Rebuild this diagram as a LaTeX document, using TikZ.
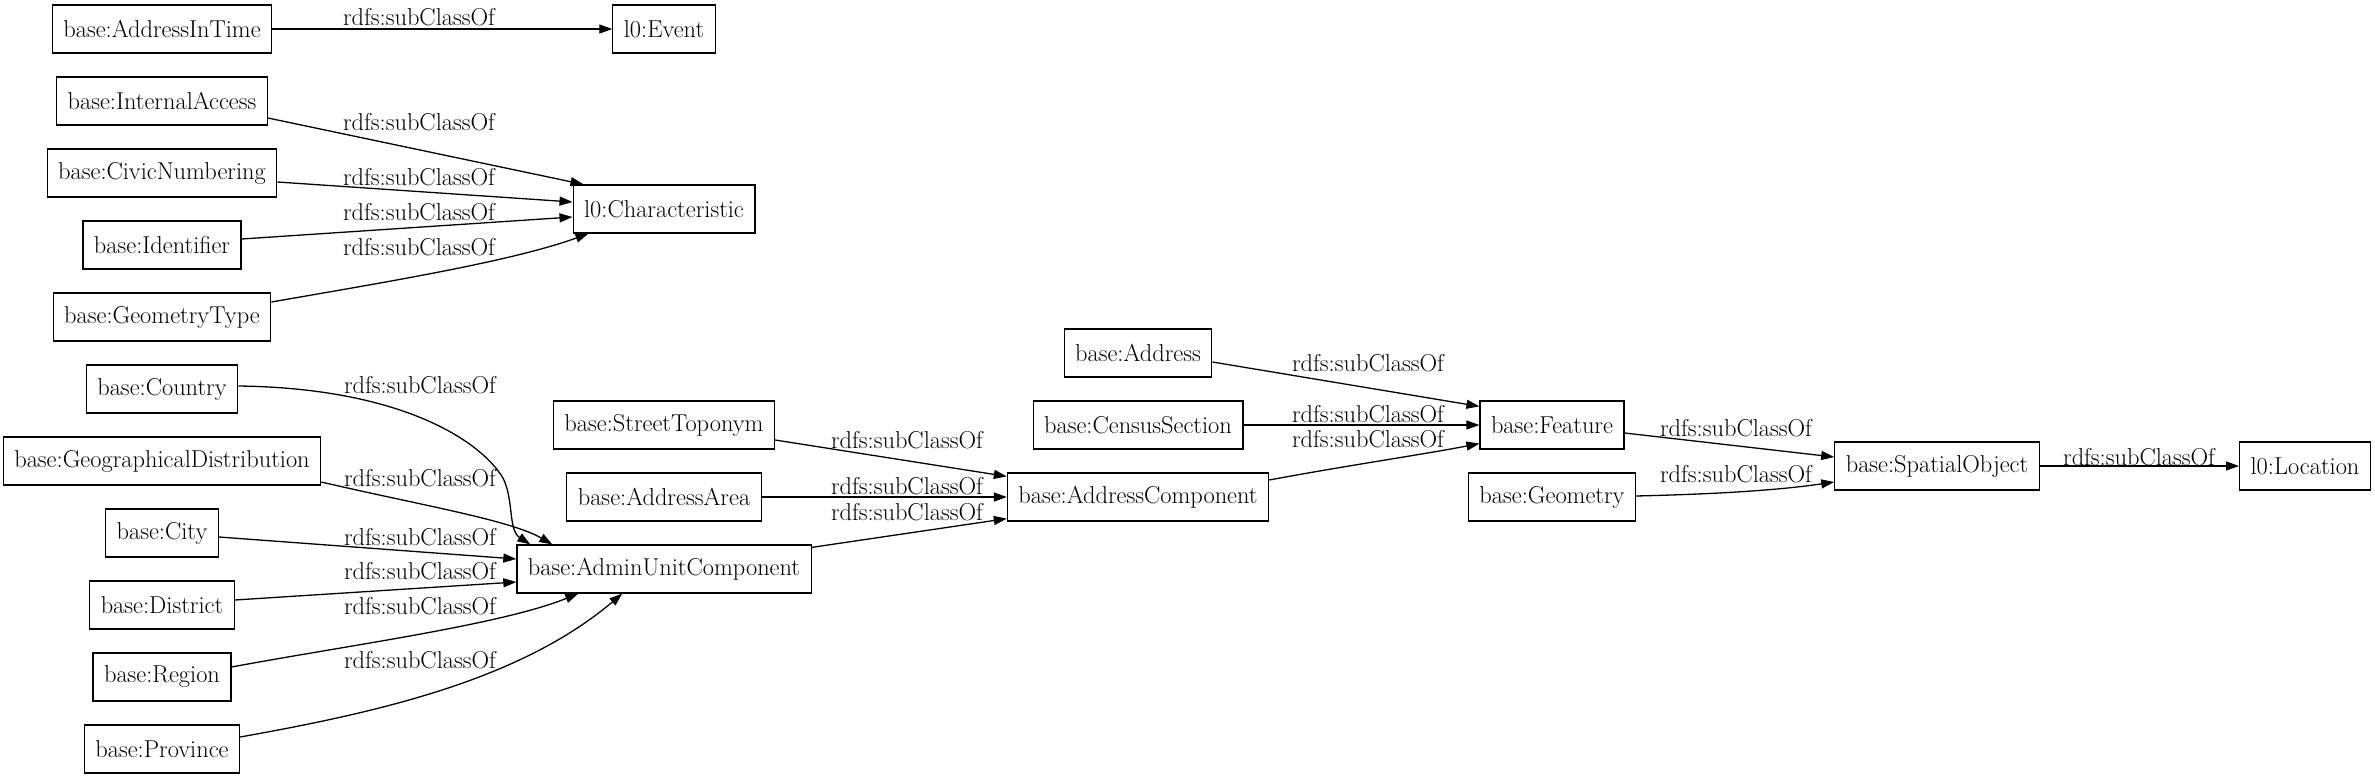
\documentclass[tikz,border=0pt]{standalone}
\usetikzlibrary{arrows.meta,calc}
\tikzset{
  cls/.style={draw, line width=1.2pt, rectangle, minimum height=48pt, inner xsep=11pt, inner ysep=0pt, font=\fontsize{24.4pt}{28pt}\selectfont},
  lbl/.style={inner sep=0pt, font=\fontsize{24.4pt}{28pt}\selectfont},
  sub/.style={line width=1.3pt, -{Triangle[length=13pt,width=9pt]}}
}
\begin{document}
\begin{tikzpicture}[x=1pt,y=-1pt]
\useasboundingbox[fill=white] (0,0) rectangle (2375,779);
% nodes
\node[cls] (ait) at (162,29) {base:AddressInTime};
\node[cls] (ev) at (664,29) {l0:Event};
\node[cls] (ia) at (162,101) {base:InternalAccess};
\node[cls] (cn) at (162,173) {base:CivicNumbering};
\node[cls] (ch) at (664,209) {l0:Characteristic};
\node[cls] (id) at (162,245) {base:Identifier};
\node[cls] (gt) at (162,317) {base:GeometryType};
\node[cls] (co) at (162,389) {base:Country};
\node[cls] (gd) at (162,461) {base:GeographicalDistribution};
\node[cls] (ci) at (162,533) {base:City};
\node[cls] (di) at (162,605) {base:District};
\node[cls] (re) at (162,677) {base:Region};
\node[cls] (pr) at (162,749) {base:Province};
\node[cls] (st) at (664,425) {base:StreetToponym};
\node[cls] (aa) at (664,497) {base:AddressArea};
\node[cls] (au) at (664,569) {base:AdminUnitComponent};
\node[cls] (ad) at (1138,353) {base:Address};
\node[cls] (cs) at (1138,425) {base:CensusSection};
\node[cls] (ac) at (1138,497) {base:AddressComponent};
\node[cls] (fe) at (1552,425) {base:Feature};
\node[cls] (ge) at (1552,497) {base:Geometry};
\node[cls] (so) at (1937,466) {base:SpatialObject};
\node[cls] (lo) at (2305,466) {l0:Location};
% edges
\draw[sub] (ait.east) -- (ev.west) node[lbl] at (419,17) {rdfs:subClassOf};
\draw[sub] ($(ia.east)+(0,17)$) -- ($(ch.north west)+(11,0)$) node[lbl] at (419,122) {rdfs:subClassOf};
\draw[sub] ($(cn.east)+(0,9)$) -- ($(ch.west)+(0,-7)$) node[lbl] at (419,177) {rdfs:subClassOf};
\draw[sub] ($(id.east)+(0,-6)$) -- ($(ch.west)+(0,8)$) node[lbl] at (419,212) {rdfs:subClassOf};
\draw[sub] ($(gt.east)+(0,-15)$) .. controls (380,283) and (510,262) .. ($(ch.south west)+(16,0)$) node[lbl] at (419,247) {rdfs:subClassOf};
\draw[sub] ($(co.east)+(0,-3)$) .. controls (400,388) and (480,440) .. (503,478) .. controls (514,500) and (508,530) .. ($(au.north west)+(14,0)$) node[lbl] at (420,385) {rdfs:subClassOf};
\draw[sub] ($(gd.east)+(0,21)$) .. controls (420,505) and (510,520) .. ($(au.north west)+(36,0)$) node[lbl] at (420,478) {rdfs:subClassOf};
\draw[sub] ($(ci.east)+(0,4)$) -- ($(au.west)+(0,-10)$) node[lbl] at (420,537) {rdfs:subClassOf};
\draw[sub] ($(di.east)+(0,-5)$) -- ($(au.west)+(0,13)$) node[lbl] at (420,571) {rdfs:subClassOf};
\draw[sub] ($(re.east)+(0,-10)$) .. controls (350,645) and (500,625) .. ($(au.south west)+(62,0)$) node[lbl] at (420,606) {rdfs:subClassOf};
\draw[sub] ($(pr.east)+(0,-12)$) .. controls (380,712) and (520,680) .. ($(au.south west)+(106,0)$) node[lbl] at (420,660) {rdfs:subClassOf};
\draw[sub] ($(st.east)+(0,15)$) -- ($(ac.north west)+(0,4)$) node[lbl] at (907,440) {rdfs:subClassOf};
\draw[sub] (aa.east) -- (ac.west) node[lbl] at (907,486) {rdfs:subClassOf};
\draw[sub] ($(au.north east)+(0,3)$) -- ($(ac.south west)+(0,-3)$) node[lbl] at (907,512) {rdfs:subClassOf};
\draw[sub] ($(ad.east)+(0,9)$) -- ($(fe.north west)+(0,6)$) node[lbl] at (1368,363) {rdfs:subClassOf};
\draw[sub] (cs.east) -- (fe.west) node[lbl] at (1368,414) {rdfs:subClassOf};
\draw[sub] ($(ac.east)+(0,-17)$) .. controls (1350,465) and (1420,455) .. ($(fe.south west)+(0,-6)$) node[lbl] at (1368,439) {rdfs:subClassOf};
\draw[sub] ($(fe.east)+(0,8)$) -- ($(so.west)+(0,-9)$) node[lbl] at (1736,428) {rdfs:subClassOf};
\draw[sub] ($(ge.east)+(0,-1)$) .. controls (1720,494) and (1780,490) .. ($(so.west)+(0,16)$) node[lbl] at (1736,474) {rdfs:subClassOf};
\draw[sub] (so.east) -- (lo.west) node[lbl] at (2139,457) {rdfs:subClassOf};
\end{tikzpicture}
\end{document}
